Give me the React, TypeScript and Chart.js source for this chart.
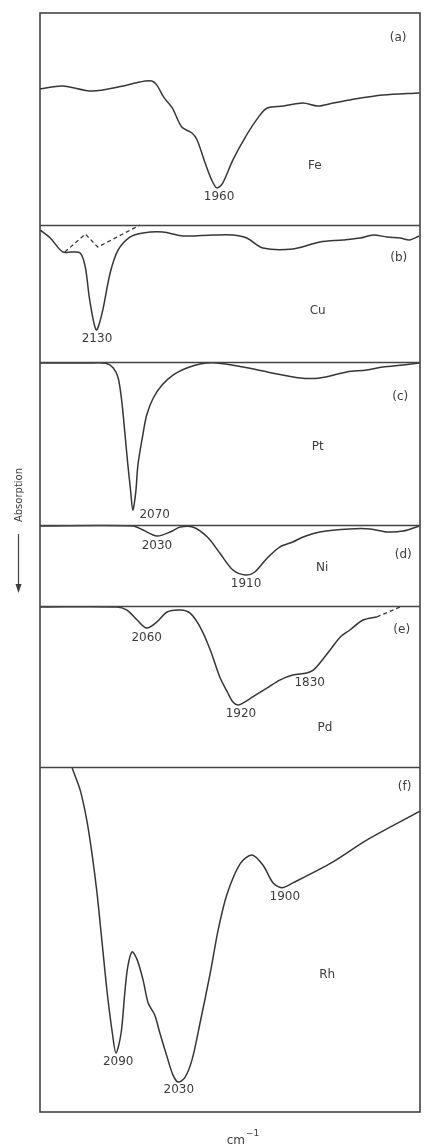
import { useEffect, useRef } from "react";
import { Chart, registerables } from "chart.js";
Chart.register(...registerables);

// Wavenumber range (cm^-1), high on the left
const WN_MIN = 1680;
const WN_MAX = 2200;

// Panel order top→bottom and their relative heights (layout)
const PANELS = ["a", "b", "c", "d", "e", "f"];
const PANEL_H = [212, 137, 163, 81, 161, 345];

// (a) Fe
const FE_WN = [2200, 2169, 2129, 2086, 2063, 2047, 2040, 2031, 2019, 2006, 1992, 1985, 1974, 1965, 1958, 1950, 1936, 1919, 1901, 1889, 1867, 1840, 1820, 1799, 1776, 1731, 1681];
const FE_T = [64.2, 65.6, 63.2, 65.6, 67.5, 67.9, 66.0, 60.4, 55.2, 46.2, 43.4, 40.1, 29.2, 21.2, 17.5, 19.8, 30.7, 41.5, 50.9, 55.2, 56.1, 57.5, 56.1, 57.5, 59.0, 61.3, 62.3];

// (b) Cu
const CU_WN = [2200, 2186, 2169, 2156, 2145, 2138, 2132, 2123, 2115, 2104, 2093, 2077, 2059, 2032, 2004, 1963, 1936, 1917, 1895, 1854, 1817, 1785, 1762, 1744, 1725, 1707, 1694, 1681];
const CU_T = [96.4, 90.5, 80.3, 80.3, 79.6, 69.3, 45.3, 23.4, 35.8, 65.0, 81.8, 91.2, 94.2, 94.9, 92.0, 92.7, 92.7, 90.5, 83.2, 82.5, 87.6, 89.1, 90.5, 92.7, 91.2, 90.5, 89.1, 92.0];
const CU_DASH_WN = [2166, 2138, 2121, 2063];
const CU_DASH_T = [80.3, 93.4, 83.9, 100];

// (c) Pt
const PT_WN = [2200, 2132, 2110, 2100, 2093, 2088, 2084, 2080, 2076, 2073, 2069, 2066, 2060, 2054, 2045, 2033, 2018, 1999, 1981, 1958, 1922, 1889, 1844, 1817, 1780, 1753, 1731, 1703, 1681];
const PT_T = [99.4, 99.4, 99.2, 96.5, 90.2, 75.5, 57.1, 38.0, 21.0, 9.2, 20.0, 36.8, 53.4, 67.5, 77.9, 85.9, 92.0, 96.3, 98.8, 99.4, 96.9, 93.9, 90.2, 90.2, 93.9, 95.1, 96.9, 98.2, 99.4];

// (d) Ni
const NI_WN = [2200, 2073, 2059, 2040, 2022, 2008, 1991, 1971, 1954, 1936, 1919, 1906, 1889, 1872, 1854, 1840, 1817, 1776, 1748, 1725, 1703, 1681];
const NI_T = [98.8, 98.8, 93.8, 86.4, 91.4, 97.5, 97.5, 85.2, 65.4, 44.4, 38.3, 42.0, 59.3, 72.8, 79.0, 85.2, 91.4, 95.1, 95.1, 91.4, 92.6, 98.8];

// (e) Pd
const PD_WN = [2200, 2095, 2081, 2067, 2054, 2040, 2026, 2008, 1995, 1981, 1967, 1954, 1943, 1936, 1929, 1922, 1909, 1889, 1872, 1854, 1835, 1826, 1817, 1803, 1789, 1776, 1758, 1739];
const PD_T = [99.4, 99.4, 97.5, 91.3, 86.3, 90.1, 96.3, 97.5, 95.7, 87.0, 72.7, 55.9, 46.0, 40.4, 38.5, 39.8, 43.5, 49.1, 54.0, 57.1, 58.4, 60.2, 64.6, 72.7, 80.7, 85.1, 91.3, 93.2];
const PD_DASH_WN = [1739, 1707];
const PD_DASH_T = [93.2, 99.4];

// (f) Rh
const RH_WN = [2156, 2145, 2136, 2129, 2122, 2115, 2108, 2101, 2096, 2089, 2084, 2080, 2074, 2067, 2059, 2052, 2043, 2036, 2026, 2018, 2011, 2002, 1992, 1981, 1967, 1956, 1944, 1926, 1910, 1895, 1881, 1869, 1854, 1799, 1753, 1680];
const RH_T = [99.7, 93.3, 84.6, 75.1, 63.5, 49.0, 34.5, 22.9, 17.1, 22.9, 34.5, 42.0, 46.4, 44.1, 38.3, 31.6, 28.1, 22.9, 15.9, 10.7, 8.7, 9.9, 15.1, 25.8, 40.3, 53.0, 63.2, 72.0, 74.5, 71.6, 66.4, 65.0, 66.4, 72.5, 78.8, 87.2];

// Text annotations: panel, wavenumber, level (% of panel), text
const LABEL_PANEL = ["a", "a", "a", "b", "b", "b", "c", "c", "c", "d", "d", "d", "d", "e", "e", "e", "e", "e", "f", "f", "f", "f", "f"];
const LABEL_WN = [1710, 1824, 1955, 1709, 1820, 2122, 1707, 1820, 2043, 2040, 1703, 1814, 1918, 2054, 1705, 1831, 1925, 1810, 1701, 1865, 1807, 2093, 2010];
const LABEL_T = [88.2, 27.8, 13.2, 75.9, 37.2, 16.8, 78.5, 47.9, 6.1, 74.1, 63.0, 46.9, 27.2, 80.1, 85.1, 52.2, 32.9, 24.2, 94.2, 62.3, 39.7, 14.5, 6.4];
const LABEL_TEXT = ["(a)", "Fe", "1960", "(b)", "Cu", "2130", "(c)", "Pt", "2070", "2030", "(d)", "Ni", "1910", "2060", "(e)", "1830", "1920", "Pd", "(f)", "1900", "Rh", "2090", "2030"];

const TOTAL_H = PANEL_H.reduce((s, h) => s + h, 0);
function panelBottom(p: string) {
  const i = PANELS.indexOf(p);
  let s = 0;
  for (let k = i + 1; k < PANEL_H.length; k++) s += PANEL_H[k];
  return s;
}
function toGlobal(p: string, t: number) {
  const i = PANELS.indexOf(p);
  return panelBottom(p) + (t / 100) * PANEL_H[i];
}
function series(p: string, wn: number[], t: number[]) {
  return wn.map((w, i) => ({ x: w, y: toGlobal(p, t[i]) }));
}

const INK = "#363636";

export default function App() {
  const ref = useRef<HTMLCanvasElement | null>(null);
  useEffect(() => {
    if (!ref.current) return;
    const solid = (p: string, wn: number[], t: number[]) => ({
      data: series(p, wn, t),
      borderColor: INK,
      borderWidth: 1.5,
      pointRadius: 0,
      fill: false,
      tension: 0.3,
    });
    const dashed = (p: string, wn: number[], t: number[]) => ({
      data: series(p, wn, t),
      borderColor: INK,
      borderWidth: 1.3,
      borderDash: [4, 3],
      pointRadius: 0,
      fill: false,
      tension: 0,
    });

    const decor = {
      id: "decor",
      afterDraw(chart: any) {
        const { ctx, chartArea, scales } = chart;
        const ys = scales.y;
        const xs = scales.x;
        ctx.save();
        ctx.strokeStyle = "#444";
        ctx.lineWidth = 1.6;
        ctx.strokeRect(chartArea.left, chartArea.top, chartArea.right - chartArea.left, chartArea.bottom - chartArea.top);
        for (let i = 0; i < PANELS.length - 1; i++) {
          const y = Math.round(ys.getPixelForValue(panelBottom(PANELS[i]))) + 0.5;
          ctx.beginPath();
          ctx.moveTo(chartArea.left, y);
          ctx.lineTo(chartArea.right, y);
          ctx.stroke();
        }
        ctx.fillStyle = "#3c3c3c";
        ctx.font = "12px 'DejaVu Sans'";
        ctx.textAlign = "center";
        ctx.textBaseline = "middle";
        for (let i = 0; i < LABEL_TEXT.length; i++) {
          const px = xs.getPixelForValue(LABEL_WN[i]);
          const py = ys.getPixelForValue(toGlobal(LABEL_PANEL[i], LABEL_T[i]));
          ctx.fillText(LABEL_TEXT[i], px, py);
        }
        // x unit
        const cx = (chartArea.left + chartArea.right) / 2 + 12;
        ctx.font = "12px 'DejaVu Sans'";
        ctx.textAlign = "right";
        ctx.fillText("cm", cx + 3, chartArea.bottom + 29);
        ctx.font = "9px 'DejaVu Sans'";
        ctx.textAlign = "left";
        ctx.fillText("−1", cx + 4, chartArea.bottom + 22);
        // y label with arrow
        ctx.save();
        ctx.translate(19, 495);
        ctx.rotate(-Math.PI / 2);
        ctx.font = "10px 'DejaVu Sans'";
        ctx.textAlign = "center";
        ctx.fillText("Absorption", 0, 0);
        ctx.restore();
        ctx.strokeStyle = "#444";
        ctx.lineWidth = 1.2;
        ctx.beginPath();
        ctx.moveTo(18.5, 534);
        ctx.lineTo(18.5, 590);
        ctx.stroke();
        ctx.beginPath();
        ctx.moveTo(15.5, 584);
        ctx.lineTo(18.5, 593);
        ctx.lineTo(21.5, 584);
        ctx.closePath();
        ctx.fill();
        ctx.restore();
      },
    };

    const chart = new Chart(ref.current, {
      type: "line",
      data: {
        datasets: [
          solid("a", FE_WN, FE_T),
          solid("b", CU_WN, CU_T),
          dashed("b", CU_DASH_WN, CU_DASH_T),
          solid("c", PT_WN, PT_T),
          solid("d", NI_WN, NI_T),
          solid("e", PD_WN, PD_T),
          dashed("e", PD_DASH_WN, PD_DASH_T),
          solid("f", RH_WN, RH_T),
        ] as any,
      },
      options: {
        animation: false,
        responsive: false,
        devicePixelRatio: 1,
        layout: { padding: { left: 40, right: 8, top: 13, bottom: 35 } },
        plugins: { legend: { display: false }, tooltip: { enabled: false } },
        scales: {
          x: { type: "linear", min: WN_MIN, max: WN_MAX, reverse: true, display: false },
          y: { type: "linear", min: 0, max: TOTAL_H, display: false },
        },
      },
      plugins: [decor],
    });
    return () => chart.destroy();
  }, []);

  return (
    <div style={{ position: "absolute", left: 0, top: 0, width: 428, height: 1147, background: "#fff" }}>
      <canvas ref={ref} width={428} height={1147} />
    </div>
  );
}
